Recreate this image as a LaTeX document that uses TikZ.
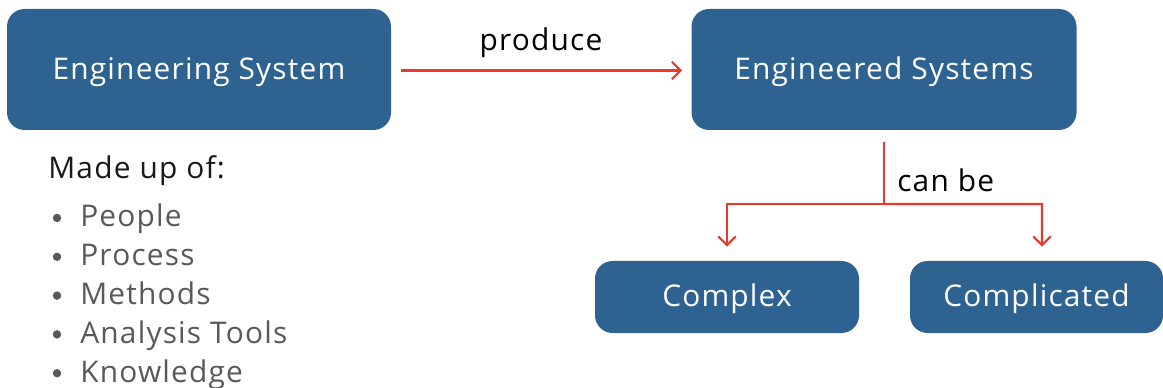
\documentclass[tikz,border=0pt]{standalone}
\usepackage{fontspec}
\setmainfont{Open Sans}[LetterSpace=4]
\usetikzlibrary{arrows.meta,calc}
\definecolor{boxblue}{HTML}{2E6291}
\definecolor{linkred}{HTML}{E8392A}
\definecolor{itemgrey}{HTML}{595959}
\tikzset{
  sysbox/.style={fill=boxblue, rounded corners=10pt, text=white, font=\fontsize{17}{20}\selectfont,
    text height=12pt, text depth=1pt},
  link/.style={draw=linkred, line width=1.2pt, -{Straight Barb[length=5pt, width=10pt, line width=1.2pt]}},
  linklabel/.style={anchor=base west, inner sep=0pt, font=\fontsize{17}{20}\selectfont},
  item/.style={anchor=base west, inner sep=0pt, text=itemgrey, font=\fontsize{17}{20}\selectfont}
}
\begin{document}
\begin{tikzpicture}[x=0.02cm, y=-0.02cm]
\useasboundingbox (0,0) rectangle (1163,388);
% boxes
\node [sysbox, minimum width=384*0.02cm, minimum height=121*0.02cm] (engsys) at (199,69.5) {Engineering System};
\node [sysbox, minimum width=385*0.02cm, minimum height=121*0.02cm] (engd) at (884,69.5) {Engineered Systems};
\node [sysbox, minimum width=264*0.02cm, minimum height=72*0.02cm] (cplx) at (727,297) {Complex};
\node [sysbox, minimum width=253*0.02cm, minimum height=72*0.02cm] (cplc) at (1036.5,297) {Complicated};
% produce
\draw [link] ($(engsys.east)+(10,1)$) -- ($(engd.west)+(-9,1)$);
\node [linklabel, anchor=base] (produce) at (541,51) {produce};
% can be
\coordinate (split) at (884,204);
\coordinate (lefttop) at (727,204);
\coordinate (righttop) at (1042,204);
\draw [draw=linkred, line width=1.2pt] ($(engd.south)+(0,12)$) -- (split);
\draw [link] (split) -- (lefttop) -- ($(cplx.north)+(0,-14)$);
\draw [link] (split) -- (righttop) -- ($(cplc.north)+(5.5,-14)$);
\node [linklabel] (canbe) at (897,192) {can be};
% list
\node [linklabel, text=black!90] (madeup) at (48,179) {Made up of:};
\foreach \txt [count=\i] in {People, Process, Methods, Analysis Tools, Knowledge} {
  \node [item] (item\i) at (80,{188.2+38.8*\i}) {\txt};
  \fill [itemgrey] (57,{179.2+38.8*\i}) circle (2.4pt);
}
\end{tikzpicture}
\end{document}
